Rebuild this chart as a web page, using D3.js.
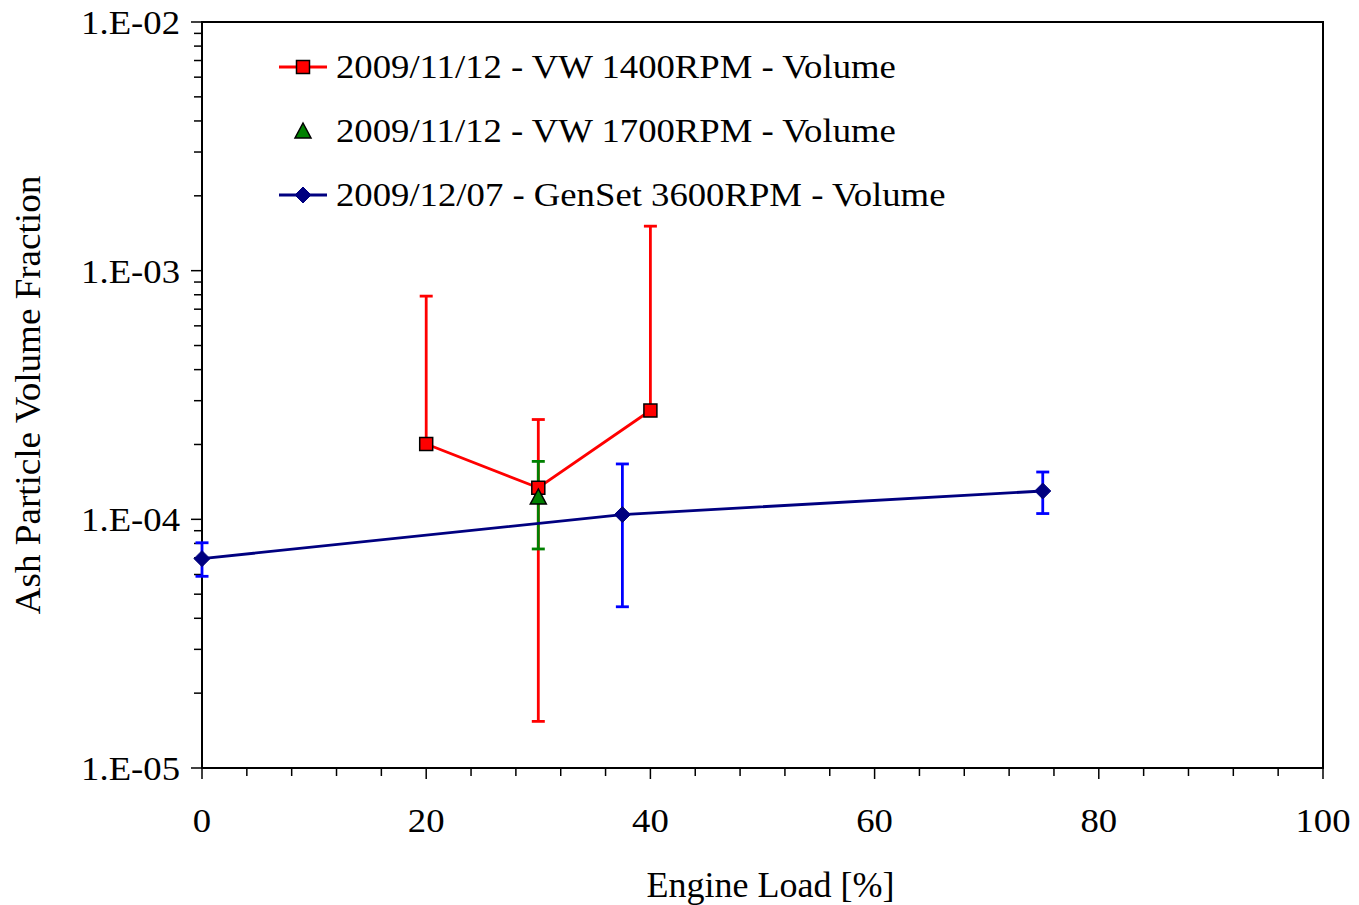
<!DOCTYPE html>
<head>
    <meta charset="utf-8">
    <script src="https://d3js.org/d3.v7.min.js"></script>
    <style>
        body {
            margin: 0;
            background: white;
            font-family: "Liberation Serif", "Times New Roman", serif;
        }
        text {
            font-family: "Liberation Serif", "Times New Roman", serif;
            fill: black;
        }
        .tick-label { font-size: 34px; }
        .axis-title { font-size: 35px; }
        .legend-label { font-size: 34px; }
        .frame { fill: none; stroke: black; stroke-width: 2px; }
        .tick { stroke: black; stroke-width: 1.5px; }
    </style>
</head>
<body>
<script>
    // engine load [%]
    var vw1400Load = [20, 30, 40];
    var vw1400Value = [2.01e-4, 1.34e-4, 2.74e-4];
    var vw1400Upper = [7.9e-4, 2.52e-4, 1.51e-3];
    var vw1400Lower = [null, 1.54e-5, null];

    var vw1700Load = [30];
    var vw1700Value = [1.23e-4];
    var vw1700Upper = [1.71e-4];
    var vw1700Lower = [7.6e-5];

    var gensetLoad = [0, 37.5, 75];
    var gensetValue = [6.95e-5, 1.045e-4, 1.30e-4];
    var gensetUpper = [8.05e-5, 1.67e-4, 1.55e-4];
    var gensetLower = [5.9e-5, 4.45e-5, 1.055e-4];

    var xTicks = [0, 20, 40, 60, 80, 100];
    var yTicks = [1e-5, 1e-4, 1e-3, 1e-2];
    var yTickLabels = ["1.E-05", "1.E-04", "1.E-03", "1.E-02"];

    var legendLabels = [
        "2009/11/12 - VW 1400RPM - Volume",
        "2009/11/12 - VW 1700RPM - Volume",
        "2009/12/07 - GenSet 3600RPM - Volume"
    ];

    var W = 1359, H = 905;
    var margin = {top: 22, right: 36, bottom: 137, left: 202};
    var width = W - margin.left - margin.right,
        height = H - margin.top - margin.bottom;

    var svg = d3.select("body").append("svg")
        .attr("width", W)
        .attr("height", H);

    var g = svg.append("g")
        .attr("transform", "translate(" + margin.left + "," + margin.top + ")");

    var x = d3.scaleLinear().domain([0, 100]).range([0, width]);
    var y = d3.scaleLog().domain([1e-5, 1e-2]).range([height, 0]);

    // the original text is a touch wider than Liberation Serif
    var stretch = 1.08;

    g.append("rect")
        .attr("class", "frame")
        .attr("width", width)
        .attr("height", height);

    // x ticks: major every 20, minor every 4
    var xMinor = d3.range(0, 101, 4);
    g.selectAll(".xminor")
        .data(xMinor)
        .enter().append("line")
        .attr("class", "tick")
        .attr("x1", function(d) { return x(d); })
        .attr("x2", function(d) { return x(d); })
        .attr("y1", height)
        .attr("y2", function(d) { return height + (d % 20 === 0 ? 11 : 8); });

    g.selectAll(".xlabel")
        .data(xTicks)
        .enter().append("text")
        .attr("class", "tick-label")
        .attr("transform", function(d) { return "translate(" + x(d) + "," + (height + 64) + ") scale(" + stretch + ",1)"; })
        .attr("text-anchor", "middle")
        .text(function(d) { return d; });

    // y ticks: decades + minor 2..9
    var yMinor = [];
    [1e-5, 1e-4, 1e-3].forEach(function(dec) {
        for (var k = 2; k <= 9; k++) yMinor.push(dec * k);
    });
    g.selectAll(".yminor")
        .data(yMinor)
        .enter().append("line")
        .attr("class", "tick")
        .attr("x1", -8)
        .attr("x2", 0)
        .attr("y1", function(d) { return y(d); })
        .attr("y2", function(d) { return y(d); });

    g.selectAll(".ymajor")
        .data(yTicks)
        .enter().append("line")
        .attr("class", "tick")
        .attr("x1", -11)
        .attr("x2", 0)
        .attr("y1", function(d) { return y(d); })
        .attr("y2", function(d) { return y(d); });

    g.selectAll(".ylabel")
        .data(yTicks)
        .enter().append("text")
        .attr("class", "tick-label")
        .attr("transform", function(d) { return "translate(-22," + (y(d) + 12) + ") scale(" + stretch + ",1)"; })
        .attr("text-anchor", "end")
        .text(function(d, i) { return yTickLabels[i]; });

    // axis titles
    svg.append("text")
        .attr("class", "axis-title")
        .attr("transform", "translate(" + (margin.left + width / 2 + 8) + ",897) scale(1.03,1)")
        .attr("text-anchor", "middle")
        .text("Engine Load [%]");

    svg.append("text")
        .attr("class", "axis-title")
        .attr("transform", "translate(40," + (margin.top + height / 2) + ") rotate(-90) scale(1.06,1)")
        .attr("text-anchor", "middle")
        .text("Ash Particle Volume Fraction");

    function rows(load, value, upper, lower) {
        return load.map(function(d, i) {
            return {x: d, v: value[i], hi: upper[i], lo: lower[i]};
        });
    }

    var series = [
        {data: rows(vw1400Load, vw1400Value, vw1400Upper, vw1400Lower), line: "#ff0000", err: "#ff0000", fill: "#ff0000", marker: "square", drawLine: true},
        {data: rows(gensetLoad, gensetValue, gensetUpper, gensetLower), line: "#000080", err: "#0000ff", fill: "#000080", marker: "diamond", drawLine: true},
        {data: rows(vw1700Load, vw1700Value, vw1700Upper, vw1700Lower), line: "#008000", err: "#008000", fill: "#008000", marker: "triangle", drawLine: false}
    ];

    var lineGen = d3.line()
        .x(function(d) { return x(d.x); })
        .y(function(d) { return y(d.v); });

    function drawErrors(s) {
        var eg = g.append("g");
        s.data.forEach(function(d) {
            var cx = x(d.x);
            var top = d.hi ? y(d.hi) : y(d.v);
            var bot = d.lo ? y(d.lo) : y(d.v);
            eg.append("line")
                .attr("x1", cx).attr("x2", cx)
                .attr("y1", top).attr("y2", bot)
                .attr("stroke", s.err).attr("stroke-width", 2.8);
            if (d.hi) {
                eg.append("line")
                    .attr("x1", cx - 6.5).attr("x2", cx + 6.5)
                    .attr("y1", top).attr("y2", top)
                    .attr("stroke", s.err).attr("stroke-width", 2.8);
            }
            if (d.lo) {
                eg.append("line")
                    .attr("x1", cx - 6.5).attr("x2", cx + 6.5)
                    .attr("y1", bot).attr("y2", bot)
                    .attr("stroke", s.err).attr("stroke-width", 2.8);
            }
        });
    }

    function markerPath(type) {
        if (type === "square") return "M-6.5,-6.5H6.5V6.5H-6.5Z";
        if (type === "diamond") return "M0,-8L8,0L0,8L-8,0Z";
        return "M0,-8L8,7H-8Z";
    }

    function drawMarker(sel, s) {
        sel.append("path")
            .attr("d", markerPath(s.marker))
            .attr("fill", s.fill)
            .attr("stroke", s.marker === "diamond" ? s.fill : "black")
            .attr("stroke-width", s.marker === "diamond" ? 1 : 1.5);
    }

    // error bars first, then lines, then markers
    series.forEach(drawErrors);

    series.forEach(function(s) {
        if (s.drawLine) {
            g.append("path")
                .datum(s.data)
                .attr("d", lineGen)
                .attr("fill", "none")
                .attr("stroke", s.line)
                .attr("stroke-width", 2.8);
        }
    });

    series.forEach(function(s) {
        g.append("g").selectAll("g")
            .data(s.data)
            .enter().append("g")
            .attr("transform", function(d) { return "translate(" + x(d.x) + "," + y(d.v) + ")"; })
            .each(function() { drawMarker(d3.select(this), s); });
    });

    // legend
    var legendSeries = [series[0], series[2], series[1]];
    var legend = svg.append("g");
    legendSeries.forEach(function(s, i) {
        var ly = 67 + i * 64;
        if (s.drawLine) {
            legend.append("line")
                .attr("x1", 279).attr("x2", 327)
                .attr("y1", ly).attr("y2", ly)
                .attr("stroke", s.line).attr("stroke-width", 2.8);
        }
        var mg = legend.append("g").attr("transform", "translate(303," + ly + ")");
        drawMarker(mg, s);
        legend.append("text")
            .attr("class", "legend-label")
            .attr("transform", "translate(336," + (ly + 11) + ") scale(" + stretch + ",1)")
            .text(legendLabels[i]);
    });
</script>
</body>
</html>
